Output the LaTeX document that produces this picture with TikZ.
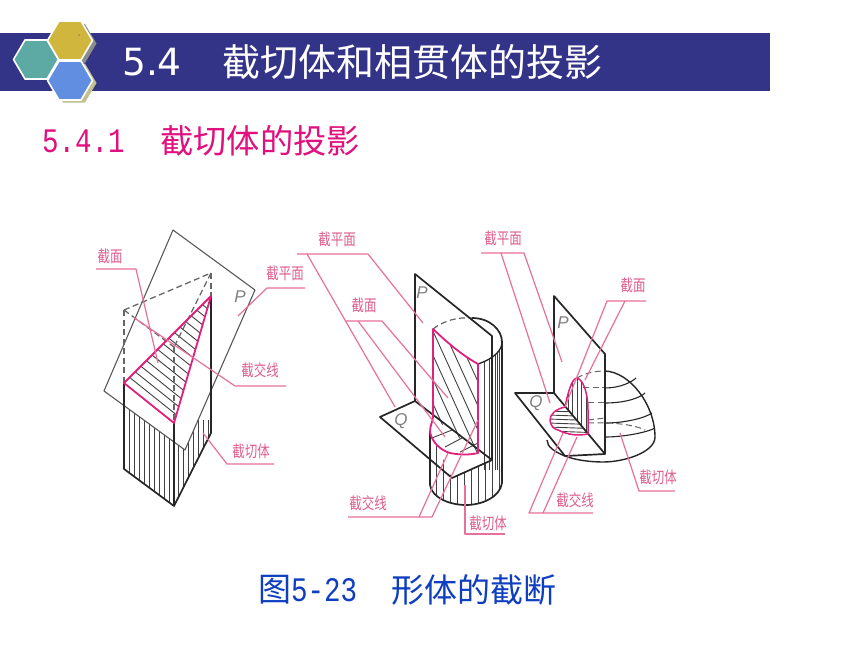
\documentclass[tikz,border=0pt]{standalone}
\usepackage{fontspec}
\setmainfont{DejaVu Sans}
\newfontfamily\cjk{Noto Sans CJK SC}
\newfontfamily\monof{Liberation Mono}
\newfontfamily\sansf{Liberation Sans}
\definecolor{barblue}{HTML}{333388}
\definecolor{leader}{HTML}{E8709C}
\definecolor{sectionpink}{HTML}{E0207A}
\definecolor{labelpink}{HTML}{DE5E8E}
\definecolor{subpink}{HTML}{E0107E}
\definecolor{capblue}{HTML}{0F3FC0}
\tikzset{
  x=1pt,y=-1pt,
  hexa/.style={draw=white,line width=1.6pt,line join=round},
  hexshadow/.style={fill=#1,draw=none},
  edge/.style={draw=black!85,line width=1.7pt,line join=round},
  thinedge/.style={draw=black!65,line width=1.1pt,line join=round},
  hiddenedge/.style={draw=black!60,line width=1.3pt,dash pattern=on 6pt off 3.5pt},
  hatch/.style={draw=black!75,line width=0.9pt},
  cutline/.style={draw=sectionpink,line width=1.8pt,line join=round},
  lead/.style={draw=leader,line width=1.2pt,line join=round},
  tag/.style={text=labelpink,inner sep=0pt,font=\cjk\fontsize{12.5}{13}\selectfont},
  plane/.style={text=black!50,inner sep=0pt,font=\sansf\itshape\fontsize{17}{17}\selectfont},
}
\newcommand{\tagtext}[1]{\scalebox{1}[1.3]{#1}}
\newcommand{\tallnum}[1]{\scalebox{1}[1.25]{#1}}
\begin{document}
\begin{tikzpicture}
\useasboundingbox (0,0) rectangle (860,645);
\fill[white] (0,0) rectangle (860,645);
% header
\fill[barblue] (0,33) rectangle (770,91);
\fill[hexshadow=black!45] ({70+4},{40.5+3}) +(-22.5,0) -- +(-11,-19.5) -- +(11,-19.5) -- +(22.5,0) -- +(11,19.5) -- +(-11,19.5) -- cycle;
\fill[hexshadow=black!35!olive!40] ({70+4},{80+3}) +(-22.5,0) -- +(-11,-19.5) -- +(11,-19.5) -- +(22.5,0) -- +(11,19.5) -- +(-11,19.5) -- cycle;
\draw[hexa,fill={rgb,255:red,92;green,170;blue,163}] (36,59.5) +(-22.5,0) -- +(-11,-19.5) -- +(11,-19.5) -- +(22.5,0) -- +(11,19.5) -- +(-11,19.5) -- cycle;
\draw[hexa,fill={rgb,255:red,208;green,182;blue,60}] (70,40.5) +(-22.5,0) -- +(-11,-19.5) -- +(11,-19.5) -- +(22.5,0) -- +(11,19.5) -- +(-11,19.5) -- cycle;
\draw[hexa,fill={rgb,255:red,98;green,142;blue,226}] (70,80.5) +(-22.5,0) -- +(-11,-19.5) -- +(11,-19.5) -- +(22.5,0) -- +(11,19.5) -- +(-11,19.5) -- cycle;
\fill[black!70] (79,35) circle (0.7);
\node[anchor=west,inner sep=0pt,text=white,font=\fontsize{37.5}{38}\selectfont] (numtitle) at (122,62) {5.4};
\node[anchor=west,inner sep=0pt,text=white,font=\cjk\fontsize{38}{38}\selectfont] (title) at (222,62) {截切体和相贯体的投影};
\node[anchor=west,inner sep=0pt,text=subpink,font=\monof\fontsize{27.5}{28}\selectfont] (subnum) at (42,141) {\tallnum{5.4.1}};
\node[anchor=west,inner sep=0pt,text=subpink,font=\cjk\fontsize{33.3}{34}\selectfont] (subtitle) at (160,141) {截切体的投影};
\node[anchor=west,inner sep=0pt,text=capblue,font=\cjk\fontsize{33}{34}\selectfont] (capfig) at (258,590) {图};
\node[anchor=west,inner sep=0pt,text=capblue,font=\monof\fontsize{27.5}{28}\selectfont] (capnum) at (291,590) {\tallnum{5-23}};
\node[anchor=west,inner sep=0pt,text=capblue,font=\cjk\fontsize{33}{34}\selectfont] (captext) at (391,590) {形体的截断};

% ===== left figure =====
\begin{scope}
\clip (124,405.6) -- (185,450) -- (211,390) -- (211,433) -- (174,506) -- (124,469) -- cycle;
\foreach \xx in {129,134,...,172} \draw[hatch] (\xx,395) -- (\xx,510);
\foreach \xx in {178,183,...,210} \draw[hatch] (\xx,420) -- (\xx,510);
\end{scope}
\draw[thinedge] (173,230) -- (255,290) -- (185,450) -- (104,391) -- cycle;
\begin{scope}
\clip (124,383) -- (211,296) -- (174,423) -- cycle;
\foreach \i in {1,...,15} \draw[hatch] ({124+\i*5.6},{383-\i*5.6}) -- ++(70,56);
\end{scope}
\draw[hiddenedge] (124,310) -- (211,273);
\draw[hiddenedge] (124,310) -- (124,383);
\draw[hiddenedge] (211,273) -- (211,296);
\draw[hiddenedge] (124,310) -- (174,347);
\draw[hiddenedge] (211,273) -- (174,347);
\draw[hiddenedge] (174,347) -- (174,423);
\draw[edge] (124,383) -- (124,469) -- (174,506) -- (174,423);
\draw[edge] (174,506) -- (211,433) -- (211,296);
\draw[cutline] (124,383) -- (211,296) -- (174,423) -- cycle;
\draw[lead] (96,269) -- (136,269) -- (158,363);
\draw[lead] (305,288) -- (267,288) -- (238,316);
\draw[lead] (286,386) -- (235,386) -- (133,317);
\draw[lead] (274,464) -- (227,464) -- (203,433);
\node[tag] (l1) at (110,256) {\tagtext{截面}};
\node[tag] (l2) at (285,273) {\tagtext{截平面}};
\node[tag] (l3) at (260,370) {\tagtext{截交线}};
\node[tag] (l4) at (251,451) {\tagtext{截切体}};
\node[plane] (lp) at (240,297) {P};

% ===== middle figure =====
\begin{scope}
\clip (430,432) -- (452,478) -- (492,460) -- (502,460) -- (502,483) .. controls (500,497) and (482,505) .. (466,505) .. controls (450,505) and (432,498) .. (430,485) -- cycle;
\foreach \xx in {436,443,...,500} \draw[hatch] (\xx,430) -- (\xx,510);
\end{scope}
\begin{scope}
\clip (478,364) .. controls (495,358) and (502,350) .. (502,342) -- (502,470) -- (478,470) -- cycle;
\foreach \xx in {484,489,495,497,499,501} \draw[hatch] (\xx,340) -- (\xx,470);
\end{scope}
\begin{scope}
\clip (433,329) .. controls (450,345) and (462,355) .. (478,364) -- (478,453) -- (433,417) -- cycle;
\foreach \i in {0,...,11} \draw[hatch] ({388+\i*11},329) -- ++(75,165);
\end{scope}
\draw[edge] (430,432) -- (430,485) .. controls (432,498) and (450,505) .. (466,505) .. controls (482,505) and (500,497) .. (502,483) -- (502,342) .. controls (502,330) and (490,318) .. (472,318);
\draw[hiddenedge,line width=1.2pt] (433,329) .. controls (445,320) and (458,317) .. (472,318);
\draw[edge,line width=1.3pt] (502,342) .. controls (502,350) and (495,358) .. (478,364);
\draw[hatch] (432,438) -- (452,430);
\draw[hatch] (445,447) -- (462,438);
\draw[hatch] (460,452) -- (478,443);
\draw[edge] (415,274) -- (492,336) -- (492,460) -- (452,478) -- (380,417) -- (415,401) -- cycle;
\draw[edge] (415,401) -- (492,460);
\draw[cutline] (433,417) .. controls (433,421) and (430,425) .. (430,432) .. controls (432,442) and (440,450) .. (450,453) .. controls (460,455) and (470,455) .. (478,453) -- (478,364) .. controls (462,355) and (450,345) .. (433,329) -- cycle;
\draw[lead] (297,254) -- (368,254) -- (423,323);
\draw[lead] (307,254) -- (395,407);
\draw[lead] (345,321) -- (382,321) -- (448,398);
\draw[lead] (358,321) -- (445,437);
\draw[lead] (348,517) -- (432,517) -- (478,420);
\draw[lead] (419,517) -- (448,453);
\draw[lead] (465,485) -- (465,534) -- (505,534);
\node[tag] (m1) at (337,239) {\tagtext{截平面}};
\node[tag] (m2) at (364,305) {\tagtext{截面}};
\node[tag] (m3) at (368,503) {\tagtext{截交线}};
\node[tag] (m4) at (488,523) {\tagtext{截切体}};
\node[plane] (mp) at (422,293) {P};
\node[plane] (mq) at (401,421) {Q};

% ===== right figure =====
\draw[edge,line width=1.4pt] (605,371) .. controls (630,372) and (655,405) .. (655,437) .. controls (655,452) and (625,462) .. (603,462) .. controls (590,462) and (575,460) .. (565,456) .. controls (555,452) and (547,447) .. (547,440);
\draw[edge,line width=1.1pt] (605,388) .. controls (620,388) and (632,382) .. (636,378);
\draw[edge,line width=1.1pt] (605,403) .. controls (625,403) and (640,398) .. (645,393);
\draw[edge,line width=1.1pt] (605,423) .. controls (625,423) and (645,418) .. (652,413);
\draw[edge,line width=1.1pt] (605,437) .. controls (625,437) and (648,432) .. (655,428);
\draw[hiddenedge,line width=1pt] (577,378) .. controls (585,373) and (595,371) .. (605,371);
\draw[hiddenedge,line width=1pt] (583,387) -- (605,387);
\draw[hiddenedge,line width=1pt] (588,402) -- (605,402);
\draw[hiddenedge,line width=1pt] (588,420) -- (605,418);
\draw[hiddenedge,line width=1pt] (588,423) .. controls (615,422) and (635,425) .. (645,430);
\begin{scope}
\clip (565,407) .. controls (568,392) and (572,378) .. (577,378) .. controls (584,380) and (588,395) .. (588,410) -- (588,434) -- cycle;
\foreach \xx in {568,572.5,...,590} \draw[hatch] (\xx,375) -- (\xx,436);
\end{scope}
\begin{scope}
\clip (565,407) .. controls (556,409) and (550,414) .. (550,420) .. controls (551,427) and (554,429) .. (558,430) .. controls (568,435) and (578,436) .. (588,434) -- cycle;
\foreach \yy in {411,415,...,435} \draw[hatch] (548,\yy) -- (590,{\yy+1.5});
\end{scope}
\draw[edge] (554,296) -- (605,354) -- (605,454) -- (565,456) -- (515,393) -- (554,393) -- cycle;
\draw[edge] (554,393) -- (605,454);
\draw[cutline,line width=1.5pt] (565,407) .. controls (568,392) and (572,378) .. (577,378) .. controls (584,380) and (588,395) .. (588,410) -- (588,434);
\draw[cutline,line width=1.5pt] (565,407) .. controls (556,409) and (550,414) .. (550,420) .. controls (551,427) and (554,429) .. (558,430) .. controls (568,435) and (578,436) .. (588,434);
\draw[lead] (481,253) -- (524,253) -- (562,362);
\draw[lead] (501,253) -- (550,403);
\draw[lead] (646,301) -- (607,301) -- (565,407);
\draw[lead] (625,301) -- (585,380);
\draw[lead] (593,513) -- (529,513) -- (563,433);
\draw[lead] (543,513) -- (577,437);
\draw[lead] (675,491) -- (639,491) -- (620,433);
\node[tag] (r1) at (503,238) {\tagtext{截平面}};
\node[tag] (r2) at (633,285) {\tagtext{截面}};
\node[tag] (r3) at (575,500) {\tagtext{截交线}};
\node[tag] (r4) at (658,477) {\tagtext{截切体}};
\node[plane] (rp) at (563,323) {P};
\node[plane] (rq) at (536,403) {Q};
\end{tikzpicture}
\end{document}
